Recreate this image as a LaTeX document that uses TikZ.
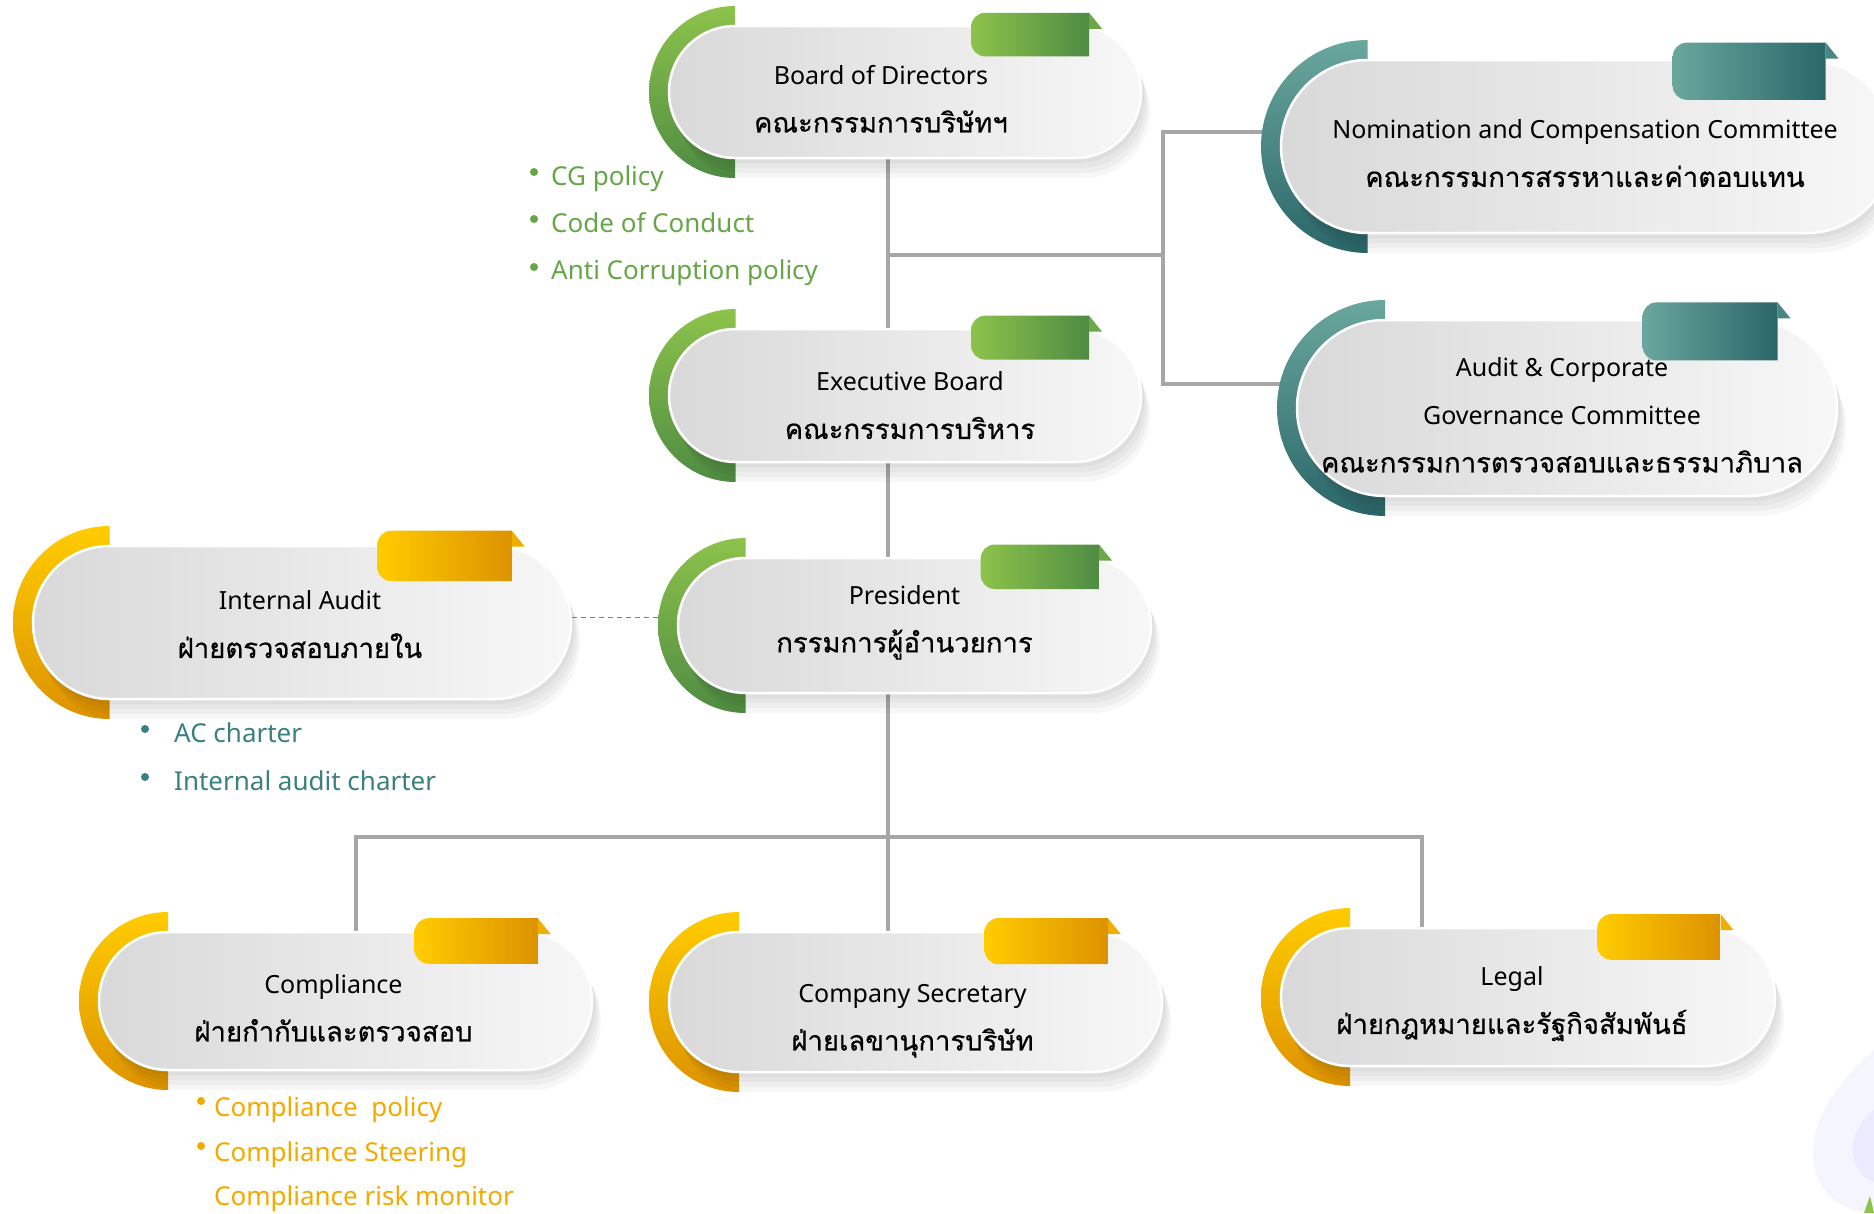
\documentclass[tikz,border=0pt]{standalone}
\usepackage{fontspec}
\setmainfont{Noto Sans}
\newfontfamily\thaifont[Script=Thai,FakeBold=0.5]{Loma}
\usepackage{tikz}
\usetikzlibrary{shadows,backgrounds,calc}
\definecolor{grnA}{HTML}{8DC24B}
\definecolor{grnB}{HTML}{4F8C43}
\definecolor{tealA}{HTML}{6AA79D}
\definecolor{tealB}{HTML}{2B6669}
\definecolor{goldA}{HTML}{FFCC00}
\definecolor{goldB}{HTML}{DD9200}
\definecolor{linegray}{HTML}{A6A6A6}
\definecolor{grntext}{HTML}{66A548}
\definecolor{tealtext}{HTML}{3B8080}
\definecolor{goldtext}{HTML}{F2A900}
\tikzset{
  pill/.style={draw=white, line width=2.5pt, left color=black!15, right color=black!3,
    drop shadow={shadow xshift=3pt, shadow yshift=-5pt, opacity=0.035, fill=black},
    drop shadow={shadow xshift=5pt, shadow yshift=-10pt, opacity=0.035, fill=black},
    drop shadow={shadow xshift=7pt, shadow yshift=-15pt, opacity=0.035, fill=black},
    drop shadow={shadow xshift=9pt, shadow yshift=-20pt, opacity=0.03, fill=black}},
  unittext/.style={align=center, font=\fontsize{25}{48}\selectfont, text=black},
  link/.style={draw=linegray, line width=3.5pt},
  dashlink/.style={draw=black!50, line width=1.4pt, dash pattern=on 5pt off 4pt},
  item/.style={anchor=base west, inner sep=0pt, font=\fontsize{26}{30}\selectfont},
}
\newcommand{\thaitext}[1]{{\thaifont\fontsize{27.5}{48}\selectfont #1}}

% unit box: name, left, top, right, bottom, colour, text offset, text
\newcommand{\orgunit}[8]{%
  \pgfmathsetmacro{\uHh}{(#5-#3)/2}
  \pgfmathsetmacro{\uH}{#5-#3}
  \pgfmathsetmacro{\uCy}{(#3+#5)/2}
  \pgfmathsetmacro{\uW}{#4-#2}
  \pgfmathsetmacro{\uR}{\uHh+20}
  % half ring
  \shade[top color=#6A, bottom color=#6B] ({#2+\uHh},{\uCy-\uR}) arc[start angle=90, end angle=270, radius=\uR pt] -- cycle;
  % pill
  \node[pill, minimum width=\uW pt, minimum height=\uH pt, rounded corners=\uHh pt] (#1) at ({(#2+#4)/2},\uCy) {};
  % tab
  \pgfmathsetmacro{\tabL}{#4-0.36*\uW}
  \pgfmathsetmacro{\tabR}{#4-0.11*\uW}
  \pgfmathsetmacro{\tabM}{(\tabL+\tabR)/2}
  \pgfmathsetmacro{\tabT}{#3-0.1*\uH}
  \pgfmathsetmacro{\tabB}{#3+0.23*\uH}
  \shade[left color=#6A, right color=#6B] (\tabM,\tabT) -- (\tabR,\tabT) -- (\tabR,\tabB) [rounded corners=14pt] -- (\tabL,\tabB) -- (\tabL,\tabT) [sharp corners] -- cycle;
  \fill[#6A!50!#6B] (\tabR,\tabT) -- ++(13,16) -- ++(-13,0) -- cycle;
  \node[unittext, shift={(#7)}] (#1t) at (#1) {#8};
}

\begin{document}
\begin{tikzpicture}[x=1pt,y=-1pt]
\useasboundingbox (0,0) rectangle (1874,1213);

% corner blob
\fill[blue!4] (1874,1050) .. controls (1835,1085) and (1805,1125) .. (1815,1170) .. controls (1822,1200) and (1850,1213) .. (1874,1213) -- cycle;
\fill[blue!8] (1874,1110) .. controls (1856,1122) and (1846,1150) .. (1858,1168) .. controls (1864,1178) .. (1874,1182) -- cycle;
\fill[grnA] (1864,1213) -- (1870,1196) -- (1874,1213) -- cycle;

% Units
\orgunit{bod}{669}{26}{1141}{158}{grn}{-24,7}{Board of Directors\\\thaitext{คณะกรรมการบริษัทฯ}}
\orgunit{exe}{669}{329}{1141}{462}{grn}{5,10}{Executive Board\\\thaitext{คณะกรรมการบริหาร}}
\orgunit{pres}{678}{558}{1151}{693}{grn}{-10,-3}{President\\\thaitext{กรรมการผู้อำนวยการ}}
\orgunit{nom}{1281}{60}{1893}{233}{teal}{-2,7}{Nomination and Compensation Committee\\\thaitext{คณะกรรมการสรรหาและค่าตอบแทน}}
\orgunit{acg}{1297}{320}{1837}{496}{teal}{-5,7}{Audit \& Corporate\\Governance Committee\\\thaitext{คณะกรรมการตรวจสอบและธรรมาภิบาล}}
\orgunit{ia}{33}{546}{571}{699}{gold}{-2,2}{Internal Audit\\\thaitext{ฝ่ายตรวจสอบภายใน}}
\orgunit{comp}{99}{932}{592}{1070}{gold}{-12,7}{Compliance\\\thaitext{ฝ่ายกำกับและตรวจสอบ}}
\orgunit{cosec}{669}{932}{1162}{1072}{gold}{-3,19}{Company Secretary\\\thaitext{ฝ่ายเลขานุการบริษัท}}
\orgunit{legal}{1281}{928}{1775}{1066}{gold}{-16,7}{Legal\\\thaitext{ฝ่ายกฎหมายและรัฐกิจสัมพันธ์}}

% Policies
\fill[grntext] (534,172) circle (4pt);
\fill[grntext] (534,219) circle (4pt);
\fill[grntext] (534,267) circle (4pt);
\node[item, text=grntext] (cgpol) at (551,185) {CG policy};
\node[item, text=grntext] (conduct) at (551,232) {Code of Conduct};
\node[item, text=grntext] (anticor) at (551,279) {Anti Corruption policy};

\fill[tealtext] (145,729) circle (4pt);
\fill[tealtext] (145,777) circle (4pt);
\node[item, text=tealtext] (accharter) at (174,742) {AC charter};
\node[item, text=tealtext] (iacharter) at (174,790) {Internal audit charter};

\fill[goldtext] (201,1101) circle (4pt);
\fill[goldtext] (201,1146) circle (4pt);
\node[item, text=goldtext] (comppol) at (214,1116) {Compliance~ policy};
\node[item, text=goldtext] (compsteer) at (214,1161) {Compliance Steering};
\node[item, text=goldtext] (comprisk) at (214,1205) {Compliance risk monitor};

% Connectors
\coordinate (trunk) at (888,0);
\coordinate (cgjoin) at (888,255);
\coordinate (sidetop) at (1163,132);
\coordinate (sidebot) at (1163,384);
\coordinate (split) at (888,837);
\coordinate (compdrop) at (356,837);
\coordinate (legdrop) at (1422,837);
\begin{scope}[on background layer]
\draw[link] (bod.south -| trunk) -- (exe.north -| trunk);
\draw[link] (cgjoin) -- (cgjoin -| sidetop);
\draw[link] (nom.west |- sidetop) -- (sidetop) -- (sidebot) -- (acg.west |- sidebot);
\draw[link] (exe.south -| trunk) -- (pres.north -| trunk);
\draw[link] (pres.south -| trunk) -- (split) -- (split |- cosec.north);
\draw[link] (compdrop |- comp.north) -- (compdrop) -- (legdrop) -- (legdrop |- legal.north);
\draw[dashlink] ([yshift=5pt]ia.east) -- ([yshift=5pt]ia.east -| pres.west);
\end{scope}
\end{tikzpicture}
\end{document}
